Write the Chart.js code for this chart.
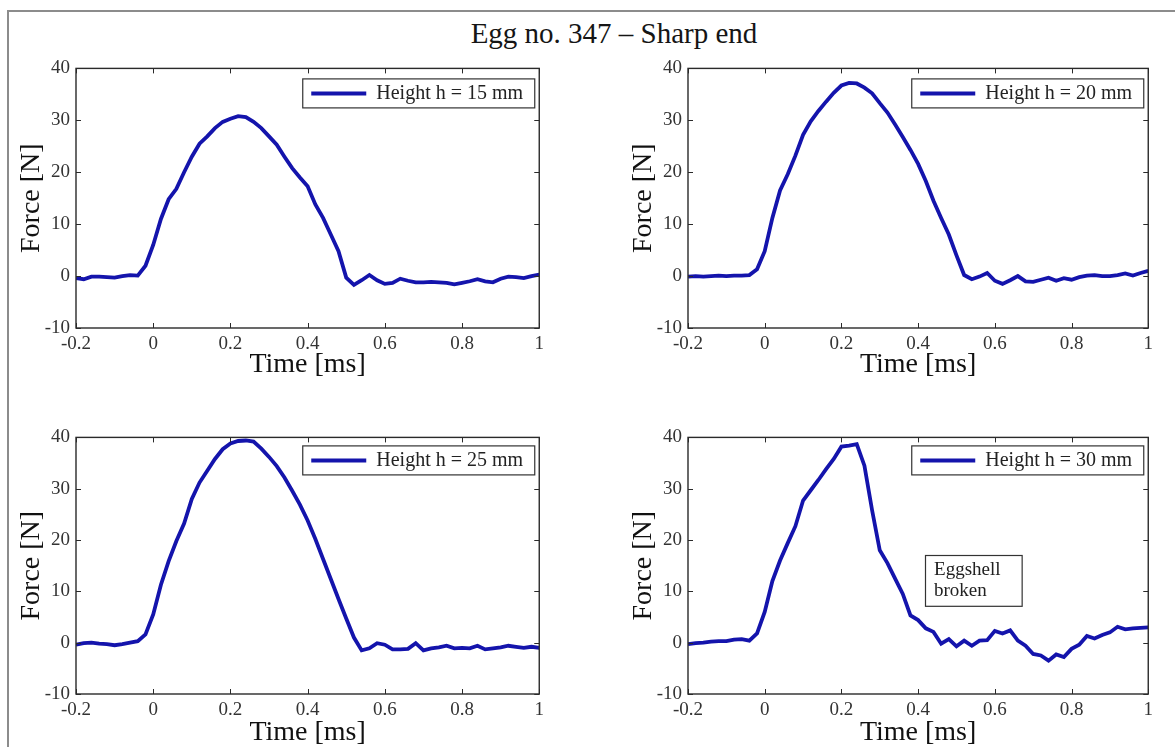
<!DOCTYPE html>
<html>
<head>
<meta charset="utf-8">
<title>Egg no. 347 - Sharp end</title>
<script src="https://cdn.jsdelivr.net/npm/chart.js@4.4.0/dist/chart.umd.min.js"></script>
<style>
    body {
        margin: 0;
        width: 1175px;
        height: 747px;
        overflow: hidden;
        background: #fff;
        position: relative;
        font-family: "Liberation Serif", "Times New Roman", serif;
    }
    #frame {
        position: absolute;
        left: 7px;
        top: 10px;
        width: 1300px;
        height: 900px;
        border-left: 2px solid #8c8c8c;
        border-top: 2px solid #8c8c8c;
    }
    #title {
        position: absolute;
        left: 0;
        top: 19px;
        width: 1228px;
        text-align: center;
        font-size: 29px;
        line-height: 29px;
        color: #151515;
    }
    canvas {
        position: absolute;
    }
</style>
</head>
<body>
<div id="frame"></div>
<div id="title">Egg no. 347 – Sharp end</div>
<canvas id="chart15" width="537" height="333" style="left:12px;top:51px"></canvas>
<canvas id="chart20" width="534" height="333" style="left:624px;top:51px"></canvas>
<canvas id="chart25" width="537" height="332" style="left:12px;top:420px"></canvas>
<canvas id="chart30" width="534" height="332" style="left:624px;top:420px"></canvas>

<script>
// Time axis samples [ms]
const times = [-0.20, -0.18, -0.16, -0.14, -0.12, -0.10, -0.08, -0.06, -0.04, -0.02,
    0.00, 0.02, 0.04, 0.06, 0.08, 0.10, 0.12, 0.14, 0.16, 0.18,
    0.20, 0.22, 0.24, 0.26, 0.28, 0.30, 0.32, 0.34, 0.36, 0.38,
    0.40, 0.42, 0.44, 0.46, 0.48, 0.50, 0.52, 0.54, 0.56, 0.58,
    0.60, 0.62, 0.64, 0.66, 0.68, 0.70, 0.72, 0.74, 0.76, 0.78,
    0.80, 0.82, 0.84, 0.86, 0.88, 0.90, 0.92, 0.94, 0.96, 0.98,
    1.00];

// Force [N]
const force15 = [-0.4, -0.6, -0.1, -0.1, -0.2, -0.3, 0.0, 0.2, 0.1, 2.0,
    6.0, 11.0, 14.8, 16.8, 20.0, 23.0, 25.5, 26.9, 28.5, 29.7,
    30.3, 30.8, 30.6, 29.7, 28.5, 26.9, 25.3, 23.0, 20.8, 19.0,
    17.3, 13.8, 11.2, 8.0, 4.8, -0.3, -1.7, -0.8, 0.2, -0.8,
    -1.5, -1.3, -0.5, -0.9, -1.2, -1.2, -1.1, -1.2, -1.3, -1.6,
    -1.3, -1.0, -0.6, -1.0, -1.2, -0.5, -0.1, -0.2, -0.4, 0.0,
    0.3];
const force20 = [-0.1, 0.0, -0.1, 0.0, 0.1, 0.0, 0.1, 0.1, 0.2, 1.3,
    4.8, 11.2, 16.5, 19.6, 23.2, 27.2, 29.8, 31.8, 33.6, 35.3,
    36.7, 37.2, 37.1, 36.3, 35.2, 33.3, 31.5, 29.2, 26.8, 24.3,
    21.6, 18.3, 14.5, 11.2, 8.0, 4.0, 0.2, -0.6, -0.1, 0.6,
    -0.9, -1.5, -0.8, 0.0, -1.0, -1.1, -0.7, -0.3, -0.9, -0.4,
    -0.7, -0.2, 0.1, 0.2, 0.0, 0.0, 0.2, 0.5, 0.1, 0.6,
    1.0];
const force25 = [-0.4, -0.1, 0.0, -0.2, -0.3, -0.5, -0.3, 0.0, 0.3, 1.6,
    5.5, 11.3, 15.9, 19.8, 23.2, 28.0, 31.2, 33.5, 35.8, 37.7,
    38.8, 39.3, 39.4, 39.2, 37.8, 36.2, 34.4, 32.2, 29.6, 26.9,
    23.8, 20.2, 16.3, 12.4, 8.5, 4.7, 1.0, -1.5, -1.1, -0.1,
    -0.4, -1.3, -1.3, -1.2, -0.1, -1.5, -1.1, -0.9, -0.6, -1.1,
    -1.0, -1.1, -0.6, -1.3, -1.1, -0.9, -0.6, -0.8, -1.0, -0.8,
    -1.0];
const force30 = [-0.3, -0.1, 0.0, 0.2, 0.3, 0.3, 0.6, 0.7, 0.4, 1.8,
    6.0, 12.0, 16.0, 19.4, 22.7, 27.7, 29.7, 31.7, 33.8, 35.8,
    38.2, 38.4, 38.7, 34.5, 25.8, 18.0, 15.5, 12.5, 9.5, 5.3,
    4.4, 2.8, 2.1, -0.2, 0.7, -0.7, 0.4, -0.6, 0.4, 0.5,
    2.3, 1.8, 2.4, 0.4, -0.6, -2.2, -2.5, -3.5, -2.3, -2.8,
    -1.2, -0.4, 1.3, 0.8, 1.5, 2.0, 3.1, 2.6, 2.8, 2.9,
    3.0];

const legendLabels = ['Height h = 15 mm', 'Height h = 20 mm', 'Height h = 25 mm', 'Height h = 30 mm'];
const xTicks = [-0.2, 0, 0.2, 0.4, 0.6, 0.8, 1];
const yTicks = [-10, 0, 10, 20, 30, 40];

// note box on the 30 mm panel, in data units
const noteLines = ['Eggshell', 'broken'];
const noteCorners = { x0: 0.418, x1: 0.67, y0: 17.1, y1: 7.2 };

const serif = '"Liberation Serif", "Times New Roman", serif';
const lineColor = '#1414ac';

// MATLAB-like box, inward ticks, legend box and the optional note
const matlabBox = {
    id: 'matlabBox',
    afterDraw(chart, args, opts) {
        const ctx = chart.ctx;
        const a = chart.chartArea;
        const xs = chart.scales.x;
        const ys = chart.scales.y;
        ctx.save();
        ctx.strokeStyle = '#2a2a2a';
        ctx.lineWidth = 1.4;
        ctx.strokeRect(a.left, a.top, a.right - a.left, a.bottom - a.top);

        ctx.lineWidth = 1;
        ctx.beginPath();
        xs.ticks.forEach(t => {
            const px = Math.round(xs.getPixelForValue(t.value)) + 0.5;
            ctx.moveTo(px, a.bottom); ctx.lineTo(px, a.bottom - 5);
            ctx.moveTo(px, a.top); ctx.lineTo(px, a.top + 5);
        });
        ys.ticks.forEach(t => {
            const py = Math.round(ys.getPixelForValue(t.value)) + 0.5;
            ctx.moveTo(a.left, py); ctx.lineTo(a.left + 5, py);
            ctx.moveTo(a.right, py); ctx.lineTo(a.right - 5, py);
        });
        ctx.stroke();

        // legend
        const ds = chart.data.datasets[0];
        const bw = 232, bh = 29;
        const bx = a.right - 5 - bw, by = a.top + opts.legendTop;
        ctx.fillStyle = '#fff';
        ctx.fillRect(bx, by, bw, bh);
        ctx.strokeStyle = '#333';
        ctx.lineWidth = 1.2;
        ctx.strokeRect(bx + 0.5, by + 0.5, bw, bh);
        ctx.strokeStyle = ds.borderColor;
        ctx.lineWidth = 4;
        ctx.beginPath();
        ctx.moveTo(bx + 9, by + bh / 2 + 0.5);
        ctx.lineTo(bx + 64, by + bh / 2 + 0.5);
        ctx.stroke();
        ctx.fillStyle = '#222';
        ctx.font = '20px ' + serif;
        ctx.textBaseline = 'alphabetic';
        ctx.textAlign = 'left';
        ctx.fillText(ds.label, bx + 74, by + 21);

        // note box
        if (opts.note) {
            const n = opts.note;
            const l = xs.getPixelForValue(n.corners.x0);
            const r = xs.getPixelForValue(n.corners.x1);
            const t = ys.getPixelForValue(n.corners.y0);
            const b = ys.getPixelForValue(n.corners.y1);
            ctx.strokeStyle = '#333';
            ctx.lineWidth = 1.2;
            ctx.strokeRect(Math.round(l) + 0.5, Math.round(t) + 0.5, r - l, b - t);
            ctx.fillStyle = '#222';
            ctx.font = '19px ' + serif;
            n.lines.forEach((s, i) => ctx.fillText(s, l + 9, t + 20 + i * 21));
        }
        ctx.restore();
    }
};

function makePanel(canvasId, values, label, xHeight, legendTop, note) {
    return new Chart(document.getElementById(canvasId), {
        type: 'line',
        data: {
            datasets: [{
                label: label,
                data: times.map((t, i) => ({ x: t, y: values[i] })),
                borderColor: lineColor,
                borderWidth: 3.8,
                pointRadius: 0,
                tension: 0,
                fill: false,
            }],
        },
        options: {
            responsive: false,
            animation: false,
            layout: { padding: { top: 12, right: 8, left: 0, bottom: 0 } },
            plugins: {
                legend: { display: false },
                tooltip: { enabled: false },
                matlabBox: { legendTop: legendTop, note: note },
            },
            scales: {
                x: {
                    type: 'linear',
                    min: -0.2,
                    max: 1,
                    afterBuildTicks: s => { s.ticks = xTicks.map(v => ({ value: v })); },
                    afterFit: s => { s.height = xHeight; },
                    grid: { display: false, drawTicks: false },
                    border: { display: false },
                    ticks: {
                        padding: 5,
                        color: '#333',
                        font: { family: serif, size: 19 },
                        callback: v => String(Math.round(v * 10) / 10),
                    },
                    title: {
                        display: true,
                        text: 'Time [ms]',
                        color: '#111',
                        padding: 3,
                        font: { family: serif, size: 28 },
                    },
                },
                y: {
                    min: -10,
                    max: 40,
                    afterBuildTicks: s => { s.ticks = yTicks.map(v => ({ value: v })); },
                    afterFit: s => { s.width = 64; },
                    grid: { display: false, drawTicks: false },
                    border: { display: false },
                    ticks: {
                        padding: 6,
                        color: '#333',
                        font: { family: serif, size: 19 },
                    },
                    title: {
                        display: true,
                        text: 'Force [N]',
                        color: '#111',
                        padding: 3,
                        font: { family: serif, size: 28 },
                    },
                },
            },
        },
        plugins: [matlabBox],
    });
}

makePanel('chart15', force15, legendLabels[0], 56, 10, null);
makePanel('chart20', force20, legendLabels[1], 56, 10, null);
makePanel('chart25', force25, legendLabels[2], 58, 8, null);
makePanel('chart30', force30, legendLabels[3], 58, 8, { lines: noteLines, corners: noteCorners });
</script>
</body>
</html>
